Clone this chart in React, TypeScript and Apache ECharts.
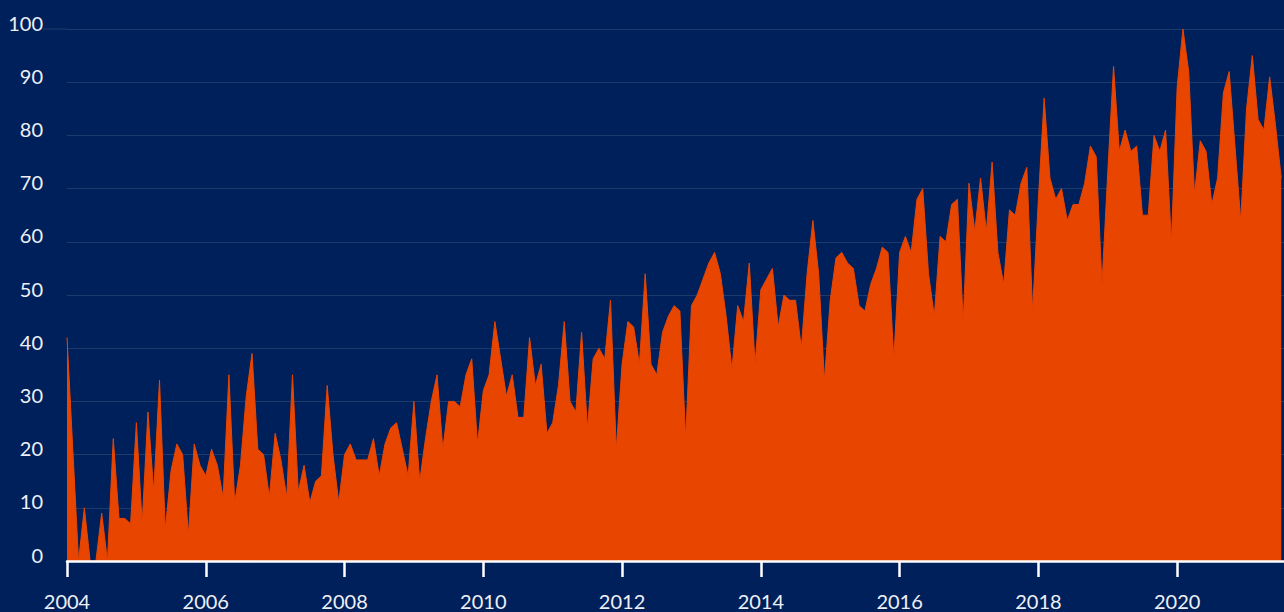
import React, { useEffect, useRef } from "react";
import * as echarts from "echarts";

const START_YEAR = 2004;

// Monthly values, one array per year (Jan..Dec)
const v2004 = [42, 21, 0, 10, 0, 0, 9, 0, 23, 8, 8, 7];
const v2005 = [26, 7, 28, 13, 34, 6, 17, 22, 20, 5, 22, 18];
const v2006 = [16, 21, 18, 12, 35, 11, 18, 31, 39, 21, 20, 12];
const v2007 = [24, 19, 12, 35, 13, 18, 11, 15, 16, 33, 20, 11];
const v2008 = [20, 22, 19, 19, 19, 23, 16, 22, 25, 26, 21, 16];
const v2009 = [30, 15, 23, 30, 35, 21, 30, 30, 29, 35, 38, 22];
const v2010 = [32, 35, 45, 38, 31, 35, 27, 27, 42, 33, 37, 24];
const v2011 = [26, 33, 45, 30, 28, 43, 25, 38, 40, 38, 49, 21];
const v2012 = [37, 45, 44, 37, 54, 37, 35, 43, 46, 48, 47, 23];
const v2013 = [48, 50, 53, 56, 58, 54, 46, 36, 48, 45, 56, 37];
const v2014 = [51, 53, 55, 44, 50, 49, 49, 40, 54, 64, 54, 34];
const v2015 = [49, 57, 58, 56, 55, 48, 47, 52, 55, 59, 58, 38];
const v2016 = [58, 61, 58, 68, 70, 54, 46, 61, 60, 67, 68, 45];
const v2017 = [71, 62, 72, 62, 75, 58, 52, 66, 65, 71, 74, 47];
const v2018 = [68, 87, 72, 68, 70, 64, 67, 67, 71, 78, 76, 52];
const v2019 = [73, 93, 77, 81, 77, 78, 65, 65, 80, 77, 81, 60];
const v2020 = [89, 100, 92, 69, 79, 77, 67, 72, 88, 92, 78, 64];
const v2021 = [85, 95, 83, 81, 91, 82, 72];

const yearlyValues = [
  v2004, v2005, v2006, v2007, v2008, v2009, v2010, v2011, v2012,
  v2013, v2014, v2015, v2016, v2017, v2018, v2019, v2020, v2021,
];

const xTickYears = [2004, 2006, 2008, 2010, 2012, 2014, 2016, 2018, 2020];

const BG = "#00205b";
const ORANGE = "#e84500";
const GRID = "#1c3a6c";
const TEXT = "#eef0f5";
const FONT = "Lato, 'Open Sans', sans-serif";

export default function App() {
  const ref = useRef<HTMLDivElement>(null);

  useEffect(() => {
    document.body.style.margin = "0";
    const chart = echarts.init(ref.current!, null, { renderer: "svg" });

    const data: [number, number][] = [];
    yearlyValues.forEach((vals, yi) => {
      vals.forEach((v, m) => {
        data.push([START_YEAR + yi + m / 12, v]);
      });
    });

    chart.setOption({
      animation: false,
      backgroundColor: BG,
      grid: { left: 67, right: 0, top: 29, bottom: 51, containLabel: false },
      xAxis: {
        type: "value",
        min: 2004,
        max: 2021.54,
        interval: 2,
        z: 10,
        axisLine: { show: true, onZero: false, lineStyle: { color: "#ffffff", width: 2.5 } },
        axisTick: {
          show: true,
          length: 16,
          customValues: xTickYears,
          lineStyle: { color: "#ffffff", width: 2.5 },
        },
        axisLabel: {
          customValues: xTickYears,
          margin: 30,
          color: TEXT,
          fontSize: 20,
          fontFamily: FONT,
          formatter: (v: number) => String(Math.round(v)),
        },
        splitLine: { show: false },
      },
      yAxis: {
        type: "value",
        min: 0,
        max: 100,
        interval: 10,
        axisLine: { show: false },
        axisTick: { show: false },
        axisLabel: {
          margin: 24,
          color: TEXT,
          fontSize: 20,
          fontFamily: FONT,
          verticalAlign: "bottom",
          lineHeight: 13,
        },
        splitLine: { show: true, lineStyle: { color: GRID, width: 1 } },
      },
      graphic: [
        {
          type: "line",
          shape: { x1: 43, y1: 29, x2: 67, y2: 29 },
          style: { stroke: GRID, lineWidth: 1 },
          silent: true,
        },
      ],
      series: [
        {
          type: "line",
          data,
          showSymbol: false,
          symbol: "none",
          lineStyle: { width: 1, color: ORANGE },
          areaStyle: { color: ORANGE, opacity: 1 },
          z: 2,
        },
      ],
    });

    return () => chart.dispose();
  }, []);

  return (
    <div
      ref={ref}
      style={{ position: "fixed", left: 0, top: 0, width: 1284, height: 612 }}
    />
  );
}
